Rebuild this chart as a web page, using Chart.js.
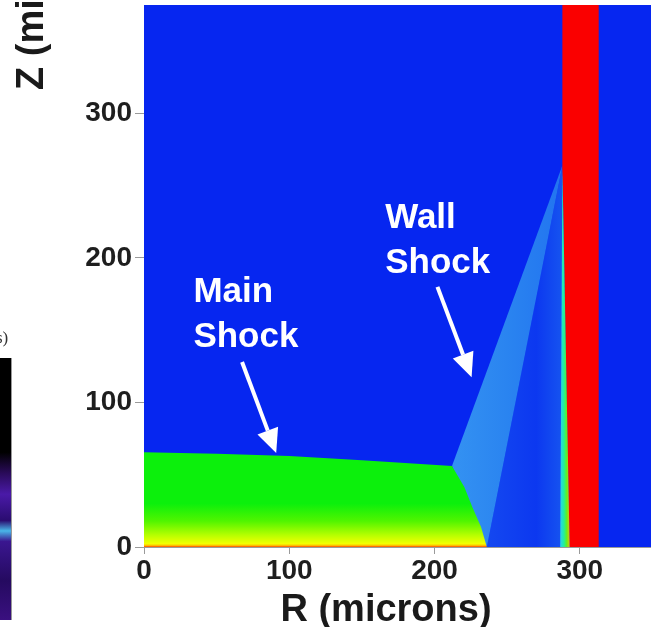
<!DOCTYPE html>
<html>
<head>
<meta charset="utf-8">
<script src="https://cdn.jsdelivr.net/npm/chart.js@4.4.1/dist/chart.umd.min.js"></script>
<style>
  html, body { margin: 0; padding: 0; background: #fff; }
  #wrap { position: relative; width: 651px; height: 627px; overflow: hidden; }
  #plot { position: absolute; left: 0; top: 0; }
  .side-label { position: absolute; left: -4px; top: 328px; font: 17px "Liberation Serif", serif; color: #333; }
  .side-panel {
    position: absolute; left: 0; top: 358px; width: 11px; height: 262px;
    border-right: 1px solid #999;
    background: linear-gradient(to bottom, #000 0%, #000 36%, #2a0b5a 44%, #4a1aa8 52%, #2a0c70 62%, #49b6e8 66%, #3a1690 70%, #250a60 85%, #3a1080 100%);
  }
</style>
</head>
<body>
<div id="wrap">
  <canvas id="plot" width="651" height="627"></canvas>
  <div class="side-label">s)</div>
  <div class="side-panel"></div>
</div>
<script>
// axes
const rTicks = [0, 100, 200, 300];
const zTicks = [0, 100, 200, 300];
const rRange = [0, 349];
const zRange = [0, 375];

// main shock region (green)
const mainR = [0, 50, 100, 150, 212, 220.5, 226, 232, 236, 0];
const mainZ = [65.5, 64.5, 63, 60, 56, 41.5, 27.7, 13.8, 0, 0];

// wall shock wedge (light blue)
const wedgeR = [212, 288, 236];
const wedgeZ = [56, 264, 0];

// region behind the wedge
const wakeR = [288, 236, 288];
const wakeZ = [264, 0, 0];

// mixing layer at the wall
const layerR = [288, 293, 286.5];
const layerZ = [262, 0, 0];

// wall (red)
const wallR = [288, 313, 313, 293, 288];
const wallZ = [375, 375, 0, 0, 262];

// annotations
const noteLines = [["Main", "Shock"], ["Wall", "Shock"]];
const noteR = [34, 166];
const noteZ = [169.5, 221];
const arrowFromR = [67.5, 202];
const arrowFromZ = [128, 180];
const arrowToR = [91, 225.5];
const arrowToZ = [65, 117.5];

const FONT = '"Liberation Sans", Arial, Helvetica, sans-serif';

const pts = (rs, zs) => rs.map((r, i) => ({ x: r, y: zs[i] }));

function grad(dir, stops) {
  return (c) => {
    const chart = c.chart;
    if (!chart.chartArea) return stops[stops.length - 1][1];
    const s = dir === "x" ? chart.scales.x : chart.scales.y;
    const a = s.getPixelForValue(stops[0][0]);
    const b = s.getPixelForValue(stops[stops.length - 1][0]);
    const g = dir === "x"
      ? chart.ctx.createLinearGradient(a, 0, b, 0)
      : chart.ctx.createLinearGradient(0, a, 0, b);
    const span = stops[stops.length - 1][0] - stops[0][0];
    stops.forEach(([v, col]) => g.addColorStop((v - stops[0][0]) / span, col));
    return g;
  };
}

function shape(data, color, order) {
  return {
    data,
    showLine: true,
    fill: "shape",
    backgroundColor: color,
    borderWidth: 0,
    pointRadius: 0,
    order,
  };
}

const fieldBg = {
  id: "fieldBg",
  beforeDatasetsDraw(chart) {
    const { ctx, chartArea: a } = chart;
    ctx.save();
    ctx.fillStyle = "#0626f0";
    ctx.fillRect(a.left, a.top, a.right - a.left, a.bottom - a.top);
    ctx.restore();
  },
};

const notes = {
  id: "notes",
  afterDatasetsDraw(chart) {
    const { ctx, scales } = chart;
    const x = scales.x, y = scales.y;
    ctx.save();
    ctx.fillStyle = "#fff";
    ctx.strokeStyle = "#fff";
    ctx.font = "bold 35px " + FONT;
    ctx.textAlign = "left";
    ctx.textBaseline = "alphabetic";
    noteLines.forEach((lines, i) => {
      const px = x.getPixelForValue(noteR[i]);
      const py = y.getPixelForValue(noteZ[i]);
      lines.forEach((t, j) => ctx.fillText(t, px, py + j * 45));
    });
    arrowFromR.forEach((r, i) => {
      const x0 = x.getPixelForValue(r), y0 = y.getPixelForValue(arrowFromZ[i]);
      const x1 = x.getPixelForValue(arrowToR[i]), y1 = y.getPixelForValue(arrowToZ[i]);
      const ang = Math.atan2(y1 - y0, x1 - x0);
      const head = 24, half = 11;
      const bx = x1 - head * Math.cos(ang), by = y1 - head * Math.sin(ang);
      ctx.lineWidth = 4;
      ctx.beginPath();
      ctx.moveTo(x0, y0);
      ctx.lineTo(bx, by);
      ctx.stroke();
      ctx.beginPath();
      ctx.moveTo(x1, y1);
      ctx.lineTo(bx + half * Math.sin(ang), by - half * Math.cos(ang));
      ctx.lineTo(bx - half * Math.sin(ang), by + half * Math.cos(ang));
      ctx.closePath();
      ctx.fill();
    });
    ctx.restore();
  },
  afterDraw(chart) {
    const { ctx } = chart;
    ctx.save();
    ctx.fillStyle = "#1a1a1a";
    ctx.font = "bold 38px " + FONT;
    ctx.textBaseline = "alphabetic";
    // axis title of R, set a little left of the centre as in the figure
    ctx.textAlign = "center";
    ctx.fillText("R (microns)", 386, 621);
    // axis title of Z, cut off by the top edge
    ctx.translate(43, 90);
    ctx.rotate(-Math.PI / 2);
    ctx.textAlign = "left";
    ctx.fillText("Z (microns)", 0, 0);
    ctx.restore();
  },
};

const tickFont = { family: FONT, size: 28, weight: "bold" };

new Chart(document.getElementById("plot"), {
  type: "scatter",
  data: {
    datasets: [
      shape(pts(mainR, mainZ), grad("y", [
        [0, "#ff3c00"], [0.8, "#ffb000"], [2.2, "#f4ff00"], [8, "#b8ff00"],
        [18, "#50f500"], [30, "#0cf00c"], [66, "#0cf00c"],
      ]), 1),
      shape(pts(layerR, layerZ), grad("x", [
        [286.5, "#2ad0f0"], [289, "#20f0a0"], [291, "#60f020"], [293, "#e8c000"],
      ]), 2),
      shape(pts(wallR, wallZ), "#fa0000", 3),
      shape(pts(wedgeR, wedgeZ), grad("x", [
        [212, "#3492f2"], [250, "#2a84f0"], [288, "#2274f0"],
      ]), 4),
      shape(pts(wakeR, wakeZ), grad("x", [
        [236, "#1448f0"], [270, "#0c38f0"], [288, "#1654f0"],
      ]), 5),
    ],
  },
  options: {
    responsive: false,
    animation: false,
    events: [],
    layout: { padding: 0 },
    plugins: { legend: { display: false }, tooltip: { enabled: false } },
    scales: {
      x: {
        type: "linear",
        min: rRange[0],
        max: rRange[1],
        afterBuildTicks: (s) => { s.ticks = rTicks.map((v) => ({ value: v })); },
        afterFit: (s) => { s.height = 80; s.paddingLeft = 0; s.paddingRight = 0; },
        ticks: { color: "#1e1e1e", font: tickFont, padding: 0, maxRotation: 0 },
        grid: { drawOnChartArea: false, drawTicks: true, tickLength: 7, color: "#9a9a9a" },
        border: { display: true, color: "#9a9a9a", width: 1 },
      },
      y: {
        type: "linear",
        min: zRange[0],
        max: zRange[1],
        afterBuildTicks: (s) => { s.ticks = zTicks.map((v) => ({ value: v })); },
        afterFit: (s) => { s.width = 144; s.paddingTop = 5; s.paddingBottom = 0; },
        ticks: { color: "#1e1e1e", font: tickFont, padding: 3 },
        grid: { drawOnChartArea: false, drawTicks: true, tickLength: 9, color: "#9a9a9a" },
        border: { display: true, color: "#9a9a9a", width: 1 },
      },
    },
  },
  plugins: [fieldBg, notes],
});
</script>
</body>
</html>
